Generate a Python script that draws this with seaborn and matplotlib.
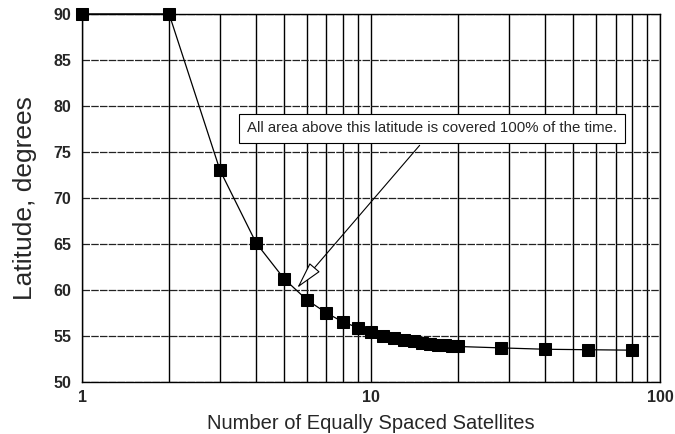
import matplotlib
matplotlib.use("Agg")
import matplotlib.pyplot as plt
import seaborn as sns
import pandas as pd
from matplotlib.ticker import FixedLocator, NullFormatter, FixedFormatter

satellites = [1, 2, 3, 4, 5, 6, 7, 8, 9, 10, 11, 12, 13, 14, 15, 16, 17, 18, 19, 20, 28, 40, 56, 80]
latitude = [90.0, 90.0, 73.0, 65.1, 61.2, 58.9, 57.5, 56.5, 55.9, 55.4, 55.0, 54.75, 54.55, 54.4, 54.25, 54.15, 54.05, 53.97, 53.9, 53.85, 53.7, 53.55, 53.5, 53.45]
y_ticks = [50, 55, 60, 65, 70, 75, 80, 85, 90]
x_major = [1, 10, 100]
x_minor = [2, 3, 4, 5, 6, 7, 8, 9, 20, 30, 40, 50, 60, 70, 80, 90]
note = "All area above this latitude is covered 100% of the time."

df = pd.DataFrame({"n": satellites, "lat": latitude})

sns.set_style("white")
plt.rcParams["font.family"] = ["Liberation Sans", "DejaVu Sans"]

fig = plt.figure(figsize=(6.75, 4.34), dpi=100)
ax = fig.add_axes([0.1215, 0.12, 0.857, 0.848])

ax.set_xscale("log")
ax.set_xlim(1, 100)
ax.set_ylim(50, 90)

# grid
for xv in x_minor + x_major:
    ax.axvline(xv, color="black", lw=1.0, zorder=1)
for yv in y_ticks:
    ax.axhline(yv, color="#222222", lw=0.9, ls=(0, (6, 1)), zorder=1)

sns.lineplot(data=df, x="n", y="lat", ax=ax, color="black", lw=0.9,
             marker="s", markersize=8, markeredgecolor="black",
             markerfacecolor="black", zorder=3, clip_on=False)

ax.xaxis.set_major_locator(FixedLocator(x_major))
ax.xaxis.set_major_formatter(FixedFormatter([str(v) for v in x_major]))
ax.xaxis.set_minor_locator(FixedLocator(x_minor))
ax.xaxis.set_minor_formatter(NullFormatter())
ax.set_yticks(y_ticks)
ax.set_yticklabels([str(v) for v in y_ticks])

ax.tick_params(axis="both", which="major", labelsize=11.5, length=4, width=1,
               direction="out", color="black")
ax.tick_params(axis="x", which="major", pad=2)
ax.tick_params(axis="x", which="minor", length=4, width=1, direction="out")
for lab in ax.get_yticklabels() + ax.get_xticklabels():
    lab.set_fontweight("bold")

for sp in ax.spines.values():
    sp.set_color("black")
    sp.set_linewidth(1.0)

ax.set_xlabel("Number of Equally Spaced Satellites", fontsize=14.5, labelpad=6)
ax.set_ylabel("Latitude, degrees", fontsize=19, labelpad=12)

ax.annotate(note, xy=(5.47, 60.0), xytext=(0.285, 0.689), textcoords="axes fraction",
            fontsize=10.8, ha="left", va="center", zorder=5,
            bbox=dict(boxstyle="square,pad=0.5", fc="white", ec="black", lw=0.8),
            arrowprops=dict(arrowstyle="-|>,head_length=1.6,head_width=0.4",
                            fc="white", ec="black", lw=0.8,
                            relpos=(0.49, 0.0)))

fig.savefig("out.png", dpi=100)
